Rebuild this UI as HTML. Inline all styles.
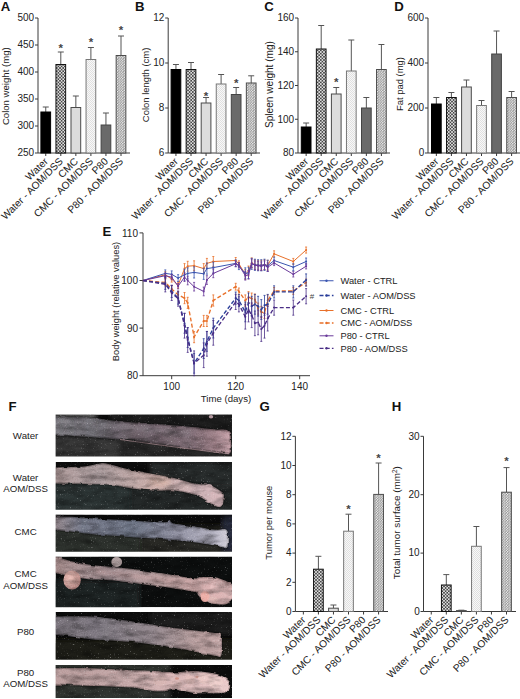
<!DOCTYPE html>
<html><head><meta charset="utf-8"><title>Figure</title>
<style>html,body{margin:0;padding:0;background:#fff}svg{display:block;font-family:"Liberation Sans",sans-serif}</style>
</head><body>
<svg width="520" height="699" viewBox="0 0 520 699">
<rect width="520" height="699" fill="#fff"/>
<defs>
<pattern id="pchk" width="3.2" height="3.2" patternUnits="userSpaceOnUse"><rect width="3.2" height="3.2" fill="#0c0c0c"/><path d="M-0.40 0.80L0.80 -0.40L2.00 0.80L0.80 2.00Z" fill="#fff"/><path d="M-0.40 4.00L0.80 2.80L2.00 4.00L0.80 5.20Z" fill="#fff"/><path d="M2.80 0.80L4.00 -0.40L5.20 0.80L4.00 2.00Z" fill="#fff"/><path d="M2.80 4.00L4.00 2.80L5.20 4.00L4.00 5.20Z" fill="#fff"/><path d="M-2.00 -0.80L-0.80 -2.00L0.40 -0.80L-0.80 0.40Z" fill="#fff"/><path d="M-2.00 2.40L-0.80 1.20L0.40 2.40L-0.80 3.60Z" fill="#fff"/><path d="M1.20 -0.80L2.40 -2.00L3.60 -0.80L2.40 0.40Z" fill="#fff"/><path d="M1.20 2.40L2.40 1.20L3.60 2.40L2.40 3.60Z" fill="#fff"/></pattern>
<pattern id="pfine" width="2.6" height="2.6" patternUnits="userSpaceOnUse"><rect width="2.6" height="2.6" fill="#484848"/><path d="M-0.39 0.65L0.65 -0.39L1.69 0.65L0.65 1.69Z" fill="#fff"/><path d="M-0.39 3.25L0.65 2.21L1.69 3.25L0.65 4.29Z" fill="#fff"/><path d="M2.21 0.65L3.25 -0.39L4.29 0.65L3.25 1.69Z" fill="#fff"/><path d="M2.21 3.25L3.25 2.21L4.29 3.25L3.25 4.29Z" fill="#fff"/><path d="M-1.69 -0.65L-0.65 -1.69L0.39 -0.65L-0.65 0.39Z" fill="#fff"/><path d="M-1.69 1.95L-0.65 0.91L0.39 1.95L-0.65 2.99Z" fill="#fff"/><path d="M0.91 -0.65L1.95 -1.69L2.99 -0.65L1.95 0.39Z" fill="#fff"/><path d="M0.91 1.95L1.95 0.91L2.99 1.95L1.95 2.99Z" fill="#fff"/></pattern>
<pattern id="pdot" width="2" height="2" patternUnits="userSpaceOnUse"><rect width="2" height="2" fill="#f8f8f8"/><rect width="1" height="1" fill="#e0e0e0"/><rect x="1" y="1" width="1" height="1" fill="#e0e0e0"/></pattern>
</defs>
<text x="0.8" y="10.9" font-size="13.2" font-weight="bold" fill="#111">A</text>
<path d="M38 18V153H130" fill="none" stroke="#3a3a3a" stroke-width="1"/>
<path d="M35 18H38" stroke="#3a3a3a" stroke-width="1"/>
<text x="34.2" y="21.3" font-size="10" text-anchor="end" fill="#222">500</text>
<path d="M35 45H38" stroke="#3a3a3a" stroke-width="1"/>
<text x="34.2" y="48.3" font-size="10" text-anchor="end" fill="#222">450</text>
<path d="M35 72H38" stroke="#3a3a3a" stroke-width="1"/>
<text x="34.2" y="75.3" font-size="10" text-anchor="end" fill="#222">400</text>
<path d="M35 99H38" stroke="#3a3a3a" stroke-width="1"/>
<text x="34.2" y="102.3" font-size="10" text-anchor="end" fill="#222">350</text>
<path d="M35 126H38" stroke="#3a3a3a" stroke-width="1"/>
<text x="34.2" y="129.3" font-size="10" text-anchor="end" fill="#222">300</text>
<path d="M35 153H38" stroke="#3a3a3a" stroke-width="1"/>
<text x="34.2" y="156.3" font-size="10" text-anchor="end" fill="#222">250</text>
<text transform="translate(9 86.2) rotate(-90)" font-size="9.6" text-anchor="middle" fill="#222">Colon weight (mg)</text>
<path d="M45.75 153v3" stroke="#3a3a3a" stroke-width="1"/>
<text transform="translate(48.55 162) rotate(-45)" font-size="10.2" text-anchor="end" fill="#222">Water</text>
<path d="M45.75 112V107M42.75 107h6" stroke="#555" stroke-width="1" fill="none"/>
<rect x="40.9" y="112" width="9.7" height="41" fill="#000" stroke="#000" stroke-width="1"/>
<path d="M60.800000000000004 153v3" stroke="#3a3a3a" stroke-width="1"/>
<text transform="translate(63.6 162) rotate(-45)" font-size="10.2" text-anchor="end" fill="#222">Water - AOM/DSS</text>
<path d="M60.800000000000004 64.5V52M57.800000000000004 52h6" stroke="#555" stroke-width="1" fill="none"/>
<rect x="55.95" y="64.5" width="9.7" height="88.5" fill="url(#pchk)" stroke="#111" stroke-width="1"/>
<text x="60.800000000000004" y="51.5" font-size="11.5" font-weight="bold" text-anchor="middle" fill="#444">*</text>
<path d="M75.85 153v3" stroke="#3a3a3a" stroke-width="1"/>
<text transform="translate(78.64999999999999 162) rotate(-45)" font-size="10.2" text-anchor="end" fill="#222">CMC</text>
<path d="M75.85 107.5V96M72.85 96h6" stroke="#555" stroke-width="1" fill="none"/>
<rect x="71.0" y="107.5" width="9.7" height="45.5" fill="#dcdcdc" stroke="#4a4a4a" stroke-width="1"/>
<path d="M90.9 153v3" stroke="#3a3a3a" stroke-width="1"/>
<text transform="translate(93.7 162) rotate(-45)" font-size="10.2" text-anchor="end" fill="#222">CMC - AOM/DSS</text>
<path d="M90.9 59.5V47.5M87.9 47.5h6" stroke="#555" stroke-width="1" fill="none"/>
<rect x="86.05000000000001" y="59.5" width="9.7" height="93.5" fill="url(#pdot)" stroke="#777" stroke-width="1"/>
<text x="90.9" y="45.5" font-size="11.5" font-weight="bold" text-anchor="middle" fill="#444">*</text>
<path d="M105.94999999999999 153v3" stroke="#3a3a3a" stroke-width="1"/>
<text transform="translate(108.74999999999999 162) rotate(-45)" font-size="10.2" text-anchor="end" fill="#222">P80</text>
<path d="M105.94999999999999 125V113M102.94999999999999 113h6" stroke="#555" stroke-width="1" fill="none"/>
<rect x="101.1" y="125" width="9.7" height="28" fill="#6a6a6a" stroke="#444" stroke-width="1"/>
<path d="M121.0 153v3" stroke="#3a3a3a" stroke-width="1"/>
<text transform="translate(123.8 162) rotate(-45)" font-size="10.2" text-anchor="end" fill="#222">P80 - AOM/DSS</text>
<path d="M121.0 55.5V36M118.0 36h6" stroke="#555" stroke-width="1" fill="none"/>
<rect x="116.15" y="55.5" width="9.7" height="97.5" fill="url(#pfine)" stroke="#4c4c4c" stroke-width="1"/>
<text x="121.0" y="33.5" font-size="11.5" font-weight="bold" text-anchor="middle" fill="#444">*</text>
<text x="135" y="10.9" font-size="13.2" font-weight="bold" fill="#111">B</text>
<path d="M168.2 18V153H260" fill="none" stroke="#3a3a3a" stroke-width="1"/>
<path d="M165.2 18H168.2" stroke="#3a3a3a" stroke-width="1"/>
<text x="164.39999999999998" y="21.3" font-size="10" text-anchor="end" fill="#222">12</text>
<path d="M165.2 63H168.2" stroke="#3a3a3a" stroke-width="1"/>
<text x="164.39999999999998" y="66.3" font-size="10" text-anchor="end" fill="#222">10</text>
<path d="M165.2 108H168.2" stroke="#3a3a3a" stroke-width="1"/>
<text x="164.39999999999998" y="111.3" font-size="10" text-anchor="end" fill="#222">8</text>
<path d="M165.2 153H168.2" stroke="#3a3a3a" stroke-width="1"/>
<text x="164.39999999999998" y="156.3" font-size="10" text-anchor="end" fill="#222">6</text>
<text transform="translate(148.5 84.9) rotate(-90)" font-size="9.45" text-anchor="middle" fill="#222">Colon length (cm)</text>
<path d="M175.95 153v3" stroke="#3a3a3a" stroke-width="1"/>
<text transform="translate(178.75 162) rotate(-45)" font-size="10.2" text-anchor="end" fill="#222">Water</text>
<path d="M175.95 69.5V64.5M172.95 64.5h6" stroke="#555" stroke-width="1" fill="none"/>
<rect x="171.1" y="69.5" width="9.7" height="83.5" fill="#000" stroke="#000" stroke-width="1"/>
<path d="M191.0 153v3" stroke="#3a3a3a" stroke-width="1"/>
<text transform="translate(193.8 162) rotate(-45)" font-size="10.2" text-anchor="end" fill="#222">Water - AOM/DSS</text>
<path d="M191.0 69.5V62.5M188.0 62.5h6" stroke="#555" stroke-width="1" fill="none"/>
<rect x="186.15" y="69.5" width="9.7" height="83.5" fill="url(#pchk)" stroke="#111" stroke-width="1"/>
<path d="M206.04999999999998 153v3" stroke="#3a3a3a" stroke-width="1"/>
<text transform="translate(208.85 162) rotate(-45)" font-size="10.2" text-anchor="end" fill="#222">CMC</text>
<path d="M206.04999999999998 103V97.5M203.04999999999998 97.5h6" stroke="#555" stroke-width="1" fill="none"/>
<rect x="201.2" y="103" width="9.7" height="50" fill="#dcdcdc" stroke="#4a4a4a" stroke-width="1"/>
<text x="206.04999999999998" y="99.5" font-size="11.5" font-weight="bold" text-anchor="middle" fill="#444">*</text>
<path d="M221.1 153v3" stroke="#3a3a3a" stroke-width="1"/>
<text transform="translate(223.9 162) rotate(-45)" font-size="10.2" text-anchor="end" fill="#222">CMC - AOM/DSS</text>
<path d="M221.1 84V74.5M218.1 74.5h6" stroke="#555" stroke-width="1" fill="none"/>
<rect x="216.25" y="84" width="9.7" height="69" fill="url(#pdot)" stroke="#777" stroke-width="1"/>
<path d="M236.15 153v3" stroke="#3a3a3a" stroke-width="1"/>
<text transform="translate(238.95000000000002 162) rotate(-45)" font-size="10.2" text-anchor="end" fill="#222">P80</text>
<path d="M236.15 94.5V87.5M233.15 87.5h6" stroke="#555" stroke-width="1" fill="none"/>
<rect x="231.3" y="94.5" width="9.7" height="58.5" fill="#6a6a6a" stroke="#444" stroke-width="1"/>
<text x="236.15" y="86.5" font-size="11.5" font-weight="bold" text-anchor="middle" fill="#444">*</text>
<path d="M251.2 153v3" stroke="#3a3a3a" stroke-width="1"/>
<text transform="translate(254.0 162) rotate(-45)" font-size="10.2" text-anchor="end" fill="#222">P80 - AOM/DSS</text>
<path d="M251.2 83V75.8M248.2 75.8h6" stroke="#555" stroke-width="1" fill="none"/>
<rect x="246.35" y="83" width="9.7" height="70" fill="url(#pfine)" stroke="#4c4c4c" stroke-width="1"/>
<text x="264.2" y="10.9" font-size="13.2" font-weight="bold" fill="#111">C</text>
<path d="M298 18V153H390" fill="none" stroke="#3a3a3a" stroke-width="1"/>
<path d="M295 18H298" stroke="#3a3a3a" stroke-width="1"/>
<text x="294.2" y="21.3" font-size="10" text-anchor="end" fill="#222">160</text>
<path d="M295 51.75H298" stroke="#3a3a3a" stroke-width="1"/>
<text x="294.2" y="55.05" font-size="10" text-anchor="end" fill="#222">140</text>
<path d="M295 85.5H298" stroke="#3a3a3a" stroke-width="1"/>
<text x="294.2" y="88.8" font-size="10" text-anchor="end" fill="#222">120</text>
<path d="M295 119.25H298" stroke="#3a3a3a" stroke-width="1"/>
<text x="294.2" y="122.55" font-size="10" text-anchor="end" fill="#222">100</text>
<path d="M295 153H298" stroke="#3a3a3a" stroke-width="1"/>
<text x="294.2" y="156.3" font-size="10" text-anchor="end" fill="#222">80</text>
<text transform="translate(272.5 84.5) rotate(-90)" font-size="10.1" text-anchor="middle" fill="#222">Spleen weight (mg)</text>
<path d="M306.15000000000003 153v3" stroke="#3a3a3a" stroke-width="1"/>
<text transform="translate(308.95000000000005 162) rotate(-45)" font-size="10.2" text-anchor="end" fill="#222">Water</text>
<path d="M306.15000000000003 127V123M303.15000000000003 123h6" stroke="#555" stroke-width="1" fill="none"/>
<rect x="301.3" y="127" width="9.7" height="26" fill="#000" stroke="#000" stroke-width="1"/>
<path d="M321.20000000000005 153v3" stroke="#3a3a3a" stroke-width="1"/>
<text transform="translate(324.00000000000006 162) rotate(-45)" font-size="10.2" text-anchor="end" fill="#222">Water - AOM/DSS</text>
<path d="M321.20000000000005 49V25.5M318.20000000000005 25.5h6" stroke="#555" stroke-width="1" fill="none"/>
<rect x="316.35" y="49" width="9.7" height="104" fill="url(#pchk)" stroke="#111" stroke-width="1"/>
<path d="M336.25000000000006 153v3" stroke="#3a3a3a" stroke-width="1"/>
<text transform="translate(339.05000000000007 162) rotate(-45)" font-size="10.2" text-anchor="end" fill="#222">CMC</text>
<path d="M336.25000000000006 94V87.5M333.25000000000006 87.5h6" stroke="#555" stroke-width="1" fill="none"/>
<rect x="331.40000000000003" y="94" width="9.7" height="59" fill="#dcdcdc" stroke="#4a4a4a" stroke-width="1"/>
<text x="336.25000000000006" y="85.5" font-size="11.5" font-weight="bold" text-anchor="middle" fill="#444">*</text>
<path d="M351.30000000000007 153v3" stroke="#3a3a3a" stroke-width="1"/>
<text transform="translate(354.1000000000001 162) rotate(-45)" font-size="10.2" text-anchor="end" fill="#222">CMC - AOM/DSS</text>
<path d="M351.30000000000007 71V40M348.30000000000007 40h6" stroke="#555" stroke-width="1" fill="none"/>
<rect x="346.45000000000005" y="71" width="9.7" height="82" fill="url(#pdot)" stroke="#777" stroke-width="1"/>
<path d="M366.35 153v3" stroke="#3a3a3a" stroke-width="1"/>
<text transform="translate(369.15000000000003 162) rotate(-45)" font-size="10.2" text-anchor="end" fill="#222">P80</text>
<path d="M366.35 108V97.5M363.35 97.5h6" stroke="#555" stroke-width="1" fill="none"/>
<rect x="361.5" y="108" width="9.7" height="45" fill="#6a6a6a" stroke="#444" stroke-width="1"/>
<path d="M381.40000000000003 153v3" stroke="#3a3a3a" stroke-width="1"/>
<text transform="translate(384.20000000000005 162) rotate(-45)" font-size="10.2" text-anchor="end" fill="#222">P80 - AOM/DSS</text>
<path d="M381.40000000000003 69.5V44.5M378.40000000000003 44.5h6" stroke="#555" stroke-width="1" fill="none"/>
<rect x="376.55" y="69.5" width="9.7" height="83.5" fill="url(#pfine)" stroke="#4c4c4c" stroke-width="1"/>
<text x="394.2" y="10.9" font-size="13.2" font-weight="bold" fill="#111">D</text>
<path d="M428 18V153H520" fill="none" stroke="#3a3a3a" stroke-width="1"/>
<path d="M425 18H428" stroke="#3a3a3a" stroke-width="1"/>
<text x="424.2" y="21.3" font-size="10" text-anchor="end" fill="#222">600</text>
<path d="M425 63H428" stroke="#3a3a3a" stroke-width="1"/>
<text x="424.2" y="66.3" font-size="10" text-anchor="end" fill="#222">400</text>
<path d="M425 108H428" stroke="#3a3a3a" stroke-width="1"/>
<text x="424.2" y="111.3" font-size="10" text-anchor="end" fill="#222">200</text>
<path d="M425 153H428" stroke="#3a3a3a" stroke-width="1"/>
<text x="424.2" y="156.3" font-size="10" text-anchor="end" fill="#222">0</text>
<text transform="translate(402.8 84) rotate(-90)" font-size="9.45" text-anchor="middle" fill="#222">Fat pad (mg)</text>
<path d="M436.35 153v3" stroke="#3a3a3a" stroke-width="1"/>
<text transform="translate(439.15000000000003 162) rotate(-45)" font-size="10.2" text-anchor="end" fill="#222">Water</text>
<path d="M436.35 104V97.5M433.35 97.5h6" stroke="#555" stroke-width="1" fill="none"/>
<rect x="431.5" y="104" width="9.7" height="49" fill="#000" stroke="#000" stroke-width="1"/>
<path d="M451.40000000000003 153v3" stroke="#3a3a3a" stroke-width="1"/>
<text transform="translate(454.20000000000005 162) rotate(-45)" font-size="10.2" text-anchor="end" fill="#222">Water - AOM/DSS</text>
<path d="M451.40000000000003 97.5V92.5M448.40000000000003 92.5h6" stroke="#555" stroke-width="1" fill="none"/>
<rect x="446.55" y="97.5" width="9.7" height="55.5" fill="url(#pchk)" stroke="#111" stroke-width="1"/>
<path d="M466.45000000000005 153v3" stroke="#3a3a3a" stroke-width="1"/>
<text transform="translate(469.25000000000006 162) rotate(-45)" font-size="10.2" text-anchor="end" fill="#222">CMC</text>
<path d="M466.45000000000005 87V80M463.45000000000005 80h6" stroke="#555" stroke-width="1" fill="none"/>
<rect x="461.6" y="87" width="9.7" height="66" fill="#dcdcdc" stroke="#4a4a4a" stroke-width="1"/>
<path d="M481.5 153v3" stroke="#3a3a3a" stroke-width="1"/>
<text transform="translate(484.3 162) rotate(-45)" font-size="10.2" text-anchor="end" fill="#222">CMC - AOM/DSS</text>
<path d="M481.5 105.5V100.5M478.5 100.5h6" stroke="#555" stroke-width="1" fill="none"/>
<rect x="476.65" y="105.5" width="9.7" height="47.5" fill="url(#pdot)" stroke="#777" stroke-width="1"/>
<path d="M496.55 153v3" stroke="#3a3a3a" stroke-width="1"/>
<text transform="translate(499.35 162) rotate(-45)" font-size="10.2" text-anchor="end" fill="#222">P80</text>
<path d="M496.55 54V31M493.55 31h6" stroke="#555" stroke-width="1" fill="none"/>
<rect x="491.7" y="54" width="9.7" height="99" fill="#6a6a6a" stroke="#444" stroke-width="1"/>
<path d="M511.6 153v3" stroke="#3a3a3a" stroke-width="1"/>
<text transform="translate(514.4 162) rotate(-45)" font-size="10.2" text-anchor="end" fill="#222">P80 - AOM/DSS</text>
<path d="M511.6 97.5V91.5M508.6 91.5h6" stroke="#555" stroke-width="1" fill="none"/>
<rect x="506.75" y="97.5" width="9.7" height="55.5" fill="url(#pfine)" stroke="#4c4c4c" stroke-width="1"/>
<text x="259.5" y="411" font-size="13.2" font-weight="bold" fill="#111">G</text>
<path d="M295.4 436.3V611.5H388" fill="none" stroke="#3a3a3a" stroke-width="1"/>
<path d="M292.4 436.3H295.4" stroke="#3a3a3a" stroke-width="1"/>
<text x="291.59999999999997" y="439.6" font-size="10" text-anchor="end" fill="#222">12</text>
<path d="M292.4 465.5H295.4" stroke="#3a3a3a" stroke-width="1"/>
<text x="291.59999999999997" y="468.8" font-size="10" text-anchor="end" fill="#222">10</text>
<path d="M292.4 494.7H295.4" stroke="#3a3a3a" stroke-width="1"/>
<text x="291.59999999999997" y="498.0" font-size="10" text-anchor="end" fill="#222">8</text>
<path d="M292.4 523.9H295.4" stroke="#3a3a3a" stroke-width="1"/>
<text x="291.59999999999997" y="527.1999999999999" font-size="10" text-anchor="end" fill="#222">6</text>
<path d="M292.4 553.1H295.4" stroke="#3a3a3a" stroke-width="1"/>
<text x="291.59999999999997" y="556.4" font-size="10" text-anchor="end" fill="#222">4</text>
<path d="M292.4 582.3H295.4" stroke="#3a3a3a" stroke-width="1"/>
<text x="291.59999999999997" y="585.5999999999999" font-size="10" text-anchor="end" fill="#222">2</text>
<path d="M292.4 611.5H295.4" stroke="#3a3a3a" stroke-width="1"/>
<text x="291.59999999999997" y="614.8" font-size="10" text-anchor="end" fill="#222">0</text>
<text transform="translate(271.5 522.7) rotate(-90)" font-size="9.45" text-anchor="middle" fill="#222">Tumor per mouse</text>
<path d="M303.35 611.5v3" stroke="#3a3a3a" stroke-width="1"/>
<text transform="translate(306.15000000000003 620.5) rotate(-45)" font-size="10.2" text-anchor="end" fill="#222">Water</text>
<path d="M318.40000000000003 611.5v3" stroke="#3a3a3a" stroke-width="1"/>
<text transform="translate(321.20000000000005 620.5) rotate(-45)" font-size="10.2" text-anchor="end" fill="#222">Water - AOM/DSS</text>
<path d="M318.40000000000003 569.2V556.3M315.40000000000003 556.3h6" stroke="#555" stroke-width="1" fill="none"/>
<rect x="313.55" y="569.2" width="9.7" height="42.299999999999955" fill="url(#pchk)" stroke="#111" stroke-width="1"/>
<path d="M333.45000000000005 611.5v3" stroke="#3a3a3a" stroke-width="1"/>
<text transform="translate(336.25000000000006 620.5) rotate(-45)" font-size="10.2" text-anchor="end" fill="#222">CMC</text>
<path d="M333.45000000000005 608.2V605M330.45000000000005 605h6" stroke="#555" stroke-width="1" fill="none"/>
<rect x="328.6" y="608.2" width="9.7" height="3.2999999999999545" fill="#dcdcdc" stroke="#4a4a4a" stroke-width="1"/>
<path d="M348.5 611.5v3" stroke="#3a3a3a" stroke-width="1"/>
<text transform="translate(351.3 620.5) rotate(-45)" font-size="10.2" text-anchor="end" fill="#222">CMC - AOM/DSS</text>
<path d="M348.5 531.2V514.2M345.5 514.2h6" stroke="#555" stroke-width="1" fill="none"/>
<rect x="343.65" y="531.2" width="9.7" height="80.29999999999995" fill="url(#pdot)" stroke="#777" stroke-width="1"/>
<text x="348.5" y="512.5" font-size="11.5" font-weight="bold" text-anchor="middle" fill="#444">*</text>
<path d="M363.55 611.5v3" stroke="#3a3a3a" stroke-width="1"/>
<text transform="translate(366.35 620.5) rotate(-45)" font-size="10.2" text-anchor="end" fill="#222">P80</text>
<path d="M378.6 611.5v3" stroke="#3a3a3a" stroke-width="1"/>
<text transform="translate(381.40000000000003 620.5) rotate(-45)" font-size="10.2" text-anchor="end" fill="#222">P80 - AOM/DSS</text>
<path d="M378.6 494.4V463M375.6 463h6" stroke="#555" stroke-width="1" fill="none"/>
<rect x="373.75" y="494.4" width="9.7" height="117.10000000000002" fill="url(#pfine)" stroke="#4c4c4c" stroke-width="1"/>
<text x="378.6" y="462.1" font-size="11.5" font-weight="bold" text-anchor="middle" fill="#444">*</text>
<text x="391.8" y="411" font-size="13.2" font-weight="bold" fill="#111">H</text>
<path d="M423.5 436.3V611.5H516" fill="none" stroke="#3a3a3a" stroke-width="1"/>
<path d="M420.5 436.3H423.5" stroke="#3a3a3a" stroke-width="1"/>
<text x="419.7" y="439.6" font-size="10" text-anchor="end" fill="#222">30</text>
<path d="M420.5 494.7H423.5" stroke="#3a3a3a" stroke-width="1"/>
<text x="419.7" y="498.0" font-size="10" text-anchor="end" fill="#222">20</text>
<path d="M420.5 553.1H423.5" stroke="#3a3a3a" stroke-width="1"/>
<text x="419.7" y="556.4" font-size="10" text-anchor="end" fill="#222">10</text>
<path d="M420.5 611.5H423.5" stroke="#3a3a3a" stroke-width="1"/>
<text x="419.7" y="614.8" font-size="10" text-anchor="end" fill="#222">0</text>
<text transform="translate(400.3 522.7) rotate(-90)" font-size="9.85" text-anchor="middle" fill="#222">Total tumor surface (mm<tspan font-size="6.5" dy="-3.5">2</tspan><tspan dy="3.5">)</tspan></text>
<path d="M431.25 611.5v3" stroke="#3a3a3a" stroke-width="1"/>
<text transform="translate(434.05 620.5) rotate(-45)" font-size="10.2" text-anchor="end" fill="#222">Water</text>
<path d="M446.3 611.5v3" stroke="#3a3a3a" stroke-width="1"/>
<text transform="translate(449.1 620.5) rotate(-45)" font-size="10.2" text-anchor="end" fill="#222">Water - AOM/DSS</text>
<path d="M446.3 585V574.6M443.3 574.6h6" stroke="#555" stroke-width="1" fill="none"/>
<rect x="441.45" y="585" width="9.7" height="26.5" fill="url(#pchk)" stroke="#111" stroke-width="1"/>
<path d="M461.35 611.5v3" stroke="#3a3a3a" stroke-width="1"/>
<text transform="translate(464.15000000000003 620.5) rotate(-45)" font-size="10.2" text-anchor="end" fill="#222">CMC</text>
<path d="M461.35 610.6V610.2M458.35 610.2h6" stroke="#555" stroke-width="1" fill="none"/>
<rect x="456.5" y="610.6" width="9.7" height="0.8999999999999773" fill="#dcdcdc" stroke="#4a4a4a" stroke-width="1"/>
<path d="M476.4 611.5v3" stroke="#3a3a3a" stroke-width="1"/>
<text transform="translate(479.2 620.5) rotate(-45)" font-size="10.2" text-anchor="end" fill="#222">CMC - AOM/DSS</text>
<path d="M476.4 546.3V526.5M473.4 526.5h6" stroke="#555" stroke-width="1" fill="none"/>
<rect x="471.54999999999995" y="546.3" width="9.7" height="65.20000000000005" fill="url(#pdot)" stroke="#777" stroke-width="1"/>
<path d="M491.45 611.5v3" stroke="#3a3a3a" stroke-width="1"/>
<text transform="translate(494.25 620.5) rotate(-45)" font-size="10.2" text-anchor="end" fill="#222">P80</text>
<path d="M506.5 611.5v3" stroke="#3a3a3a" stroke-width="1"/>
<text transform="translate(509.3 620.5) rotate(-45)" font-size="10.2" text-anchor="end" fill="#222">P80 - AOM/DSS</text>
<path d="M506.5 492.2V467.6M503.5 467.6h6" stroke="#555" stroke-width="1" fill="none"/>
<rect x="501.65" y="492.2" width="9.7" height="119.30000000000001" fill="url(#pfine)" stroke="#4c4c4c" stroke-width="1"/>
<text x="506.5" y="465.3" font-size="11.5" font-weight="bold" text-anchor="middle" fill="#444">*</text>
<text x="102.5" y="236" font-size="13.2" font-weight="bold" fill="#111">E</text>
<path d="M143 232.9V375.7H310" fill="none" stroke="#3a3a3a"/>
<path d="M139.5 232.9H143" stroke="#3a3a3a"/>
<text x="138" y="236.5" font-size="10" text-anchor="end" fill="#222">110</text>
<path d="M139.5 280.5H143" stroke="#3a3a3a"/>
<text x="138" y="284.1" font-size="10" text-anchor="end" fill="#222">100</text>
<path d="M139.5 328.1H143" stroke="#3a3a3a"/>
<text x="138" y="331.70000000000005" font-size="10" text-anchor="end" fill="#222">90</text>
<path d="M139.5 375.7H143" stroke="#3a3a3a"/>
<text x="138" y="379.3" font-size="10" text-anchor="end" fill="#222">80</text>
<path d="M171.7 375.7v3.5" stroke="#3a3a3a"/>
<text x="171.7" y="389.7" font-size="10" text-anchor="middle" fill="#222">100</text>
<path d="M235.7 375.7v3.5" stroke="#3a3a3a"/>
<text x="235.7" y="389.7" font-size="10" text-anchor="middle" fill="#222">120</text>
<path d="M299.7 375.7v3.5" stroke="#3a3a3a"/>
<text x="299.7" y="389.7" font-size="10" text-anchor="middle" fill="#222">140</text>
<text transform="translate(118.6 301.5) rotate(-90)" font-size="9.35" text-anchor="middle" fill="#222">Body weight (relative values)</text>
<text x="226" y="402" font-size="9.6" text-anchor="middle" fill="#222">Time (days)</text>
<polyline points="142.9,280.5 165.3,274.8 171.7,279.1 178.1,285.3 184.5,268.6 187.7,266.2 194.1,265.7 203.7,268.6 206.9,263.4 213.3,261.5 235.7,260.5 238.9,263.8 245.3,274.3 248.5,271.0 251.7,262.9 254.9,264.8 258.1,265.3 261.3,265.3 264.5,264.8 267.7,265.3 274.1,253.8 293.3,261.5 306.1,250.0" fill="none" stroke="#e8702a" stroke-width="1"/>
<path d="M165.3 271.7V277.8M164.3 271.7h2M164.3 277.8h2M171.7 276.0V282.1M170.7 276.0h2M170.7 282.1h2M178.1 282.2V288.3M177.1 282.2h2M177.1 288.3h2M184.5 263.6V273.6M183.5 263.6h2M183.5 273.6h2M187.7 261.3V271.2M186.7 261.3h2M186.7 271.2h2M194.1 260.8V270.7M193.1 260.8h2M193.1 270.7h2M203.7 263.6V273.6M202.7 263.6h2M202.7 273.6h2M206.9 258.4V268.3M205.9 258.4h2M205.9 268.3h2M213.3 256.5V266.4M212.3 256.5h2M212.3 266.4h2M235.7 257.5V263.6M234.7 257.5h2M234.7 263.6h2M238.9 260.8V266.9M237.9 260.8h2M237.9 266.9h2M245.3 269.4V279.3M244.3 269.4h2M244.3 279.3h2M248.5 266.0V275.9M247.5 266.0h2M247.5 275.9h2M251.7 257.9V267.8M250.7 257.9h2M250.7 267.8h2M254.9 259.8V269.7M253.9 259.8h2M253.9 269.7h2M258.1 260.3V270.2M257.1 260.3h2M257.1 270.2h2M261.3 260.3V270.2M260.3 260.3h2M260.3 270.2h2M264.5 259.8V269.7M263.5 259.8h2M263.5 269.7h2M267.7 260.3V270.2M266.7 260.3h2M266.7 270.2h2M274.1 250.8V256.9M273.1 250.8h2M273.1 256.9h2M293.3 258.4V264.5M292.3 258.4h2M292.3 264.5h2M306.1 247.0V253.1M305.1 247.0h2M305.1 253.1h2" stroke="#e8702a" stroke-width="0.8" fill="none"/>
<circle cx="165.3" cy="274.8" r="1" fill="#e8702a"/>
<circle cx="171.7" cy="279.1" r="1" fill="#e8702a"/>
<circle cx="178.1" cy="285.3" r="1" fill="#e8702a"/>
<circle cx="184.5" cy="268.6" r="1" fill="#e8702a"/>
<circle cx="187.7" cy="266.2" r="1" fill="#e8702a"/>
<circle cx="194.1" cy="265.7" r="1" fill="#e8702a"/>
<circle cx="203.7" cy="268.6" r="1" fill="#e8702a"/>
<circle cx="206.9" cy="263.4" r="1" fill="#e8702a"/>
<circle cx="213.3" cy="261.5" r="1" fill="#e8702a"/>
<circle cx="235.7" cy="260.5" r="1" fill="#e8702a"/>
<circle cx="238.9" cy="263.8" r="1" fill="#e8702a"/>
<circle cx="245.3" cy="274.3" r="1" fill="#e8702a"/>
<circle cx="248.5" cy="271.0" r="1" fill="#e8702a"/>
<circle cx="251.7" cy="262.9" r="1" fill="#e8702a"/>
<circle cx="254.9" cy="264.8" r="1" fill="#e8702a"/>
<circle cx="258.1" cy="265.3" r="1" fill="#e8702a"/>
<circle cx="261.3" cy="265.3" r="1" fill="#e8702a"/>
<circle cx="264.5" cy="264.8" r="1" fill="#e8702a"/>
<circle cx="267.7" cy="265.3" r="1" fill="#e8702a"/>
<circle cx="274.1" cy="253.8" r="1" fill="#e8702a"/>
<circle cx="293.3" cy="261.5" r="1" fill="#e8702a"/>
<circle cx="306.1" cy="250.0" r="1" fill="#e8702a"/>
<polyline points="142.9,280.5 165.3,273.4 171.7,274.3 178.1,278.1 184.5,274.8 187.7,273.4 194.1,272.4 203.7,273.8 206.9,268.6 213.3,267.6 235.7,263.4 238.9,266.2 245.3,273.4 248.5,272.9 251.7,263.8 254.9,264.8 258.1,265.3 261.3,265.3 264.5,264.8 267.7,265.7 274.1,260.5 293.3,267.2 306.1,261.5" fill="none" stroke="#3a55b0" stroke-width="1"/>
<path d="M165.3 269.9V276.8M164.3 269.9h2M164.3 276.8h2M171.7 270.9V277.7M170.7 270.9h2M170.7 277.7h2M178.1 274.7V281.5M177.1 274.7h2M177.1 281.5h2M184.5 269.2V280.4M183.5 269.2h2M183.5 280.4h2M187.7 267.8V278.9M186.7 267.8h2M186.7 278.9h2M194.1 266.8V278.0M193.1 266.8h2M193.1 278.0h2M203.7 268.3V279.4M202.7 268.3h2M202.7 279.4h2M206.9 263.0V274.2M205.9 263.0h2M205.9 274.2h2M213.3 262.1V273.2M212.3 262.1h2M212.3 273.2h2M235.7 259.9V266.8M234.7 259.9h2M234.7 266.8h2M238.9 262.8V269.6M237.9 262.8h2M237.9 269.6h2M245.3 267.8V278.9M244.3 267.8h2M244.3 278.9h2M248.5 267.3V278.5M247.5 267.3h2M247.5 278.5h2M251.7 258.3V269.4M250.7 258.3h2M250.7 269.4h2M254.9 259.2V270.4M253.9 259.2h2M253.9 270.4h2M258.1 259.7V270.8M257.1 259.7h2M257.1 270.8h2M261.3 259.7V270.8M260.3 259.7h2M260.3 270.8h2M264.5 259.2V270.4M263.5 259.2h2M263.5 270.4h2M267.7 260.2V271.3M266.7 260.2h2M266.7 271.3h2M274.1 257.1V263.9M273.1 257.1h2M273.1 263.9h2M293.3 263.7V270.6M292.3 263.7h2M292.3 270.6h2M306.1 258.0V264.9M305.1 258.0h2M305.1 264.9h2" stroke="#3a55b0" stroke-width="0.8" fill="none"/>
<circle cx="165.3" cy="273.4" r="1" fill="#3a55b0"/>
<circle cx="171.7" cy="274.3" r="1" fill="#3a55b0"/>
<circle cx="178.1" cy="278.1" r="1" fill="#3a55b0"/>
<circle cx="184.5" cy="274.8" r="1" fill="#3a55b0"/>
<circle cx="187.7" cy="273.4" r="1" fill="#3a55b0"/>
<circle cx="194.1" cy="272.4" r="1" fill="#3a55b0"/>
<circle cx="203.7" cy="273.8" r="1" fill="#3a55b0"/>
<circle cx="206.9" cy="268.6" r="1" fill="#3a55b0"/>
<circle cx="213.3" cy="267.6" r="1" fill="#3a55b0"/>
<circle cx="235.7" cy="263.4" r="1" fill="#3a55b0"/>
<circle cx="238.9" cy="266.2" r="1" fill="#3a55b0"/>
<circle cx="245.3" cy="273.4" r="1" fill="#3a55b0"/>
<circle cx="248.5" cy="272.9" r="1" fill="#3a55b0"/>
<circle cx="251.7" cy="263.8" r="1" fill="#3a55b0"/>
<circle cx="254.9" cy="264.8" r="1" fill="#3a55b0"/>
<circle cx="258.1" cy="265.3" r="1" fill="#3a55b0"/>
<circle cx="261.3" cy="265.3" r="1" fill="#3a55b0"/>
<circle cx="264.5" cy="264.8" r="1" fill="#3a55b0"/>
<circle cx="267.7" cy="265.7" r="1" fill="#3a55b0"/>
<circle cx="274.1" cy="260.5" r="1" fill="#3a55b0"/>
<circle cx="293.3" cy="267.2" r="1" fill="#3a55b0"/>
<circle cx="306.1" cy="261.5" r="1" fill="#3a55b0"/>
<polyline points="142.9,280.5 165.3,275.7 171.7,277.2 178.1,286.2 184.5,277.2 187.7,280.5 194.1,286.7 203.7,291.4 206.9,280.0 213.3,273.4 235.7,263.8 238.9,265.3 245.3,275.7 248.5,274.8 251.7,263.4 254.9,265.3 258.1,265.7 261.3,266.2 264.5,265.3 267.7,267.2 274.1,262.9 293.3,274.3 306.1,266.2" fill="none" stroke="#6a3a9a" stroke-width="1"/>
<path d="M165.3 273.1V278.4M164.3 273.1h2M164.3 278.4h2M171.7 274.5V279.8M170.7 274.5h2M170.7 279.8h2M178.1 283.5V288.9M177.1 283.5h2M177.1 288.9h2M184.5 272.8V281.5M183.5 272.8h2M183.5 281.5h2M187.7 276.2V284.8M186.7 276.2h2M186.7 284.8h2M194.1 282.4V291.0M193.1 282.4h2M193.1 291.0h2M203.7 287.1V295.8M202.7 287.1h2M202.7 295.8h2M206.9 275.7V284.4M205.9 275.7h2M205.9 284.4h2M213.3 269.0V277.7M212.3 269.0h2M212.3 277.7h2M235.7 261.2V266.5M234.7 261.2h2M234.7 266.5h2M238.9 262.6V267.9M237.9 262.6h2M237.9 267.9h2M245.3 271.4V280.1M244.3 271.4h2M244.3 280.1h2M248.5 270.5V279.1M247.5 270.5h2M247.5 279.1h2M251.7 259.0V267.7M250.7 259.0h2M250.7 267.7h2M254.9 260.9V269.6M253.9 260.9h2M253.9 269.6h2M258.1 261.4V270.1M257.1 261.4h2M257.1 270.1h2M261.3 261.9V270.6M260.3 261.9h2M260.3 270.6h2M264.5 260.9V269.6M263.5 260.9h2M263.5 269.6h2M267.7 262.8V271.5M266.7 262.8h2M266.7 271.5h2M274.1 260.2V265.6M273.1 260.2h2M273.1 265.6h2M293.3 271.6V277.0M292.3 271.6h2M292.3 277.0h2M306.1 263.6V268.9M305.1 263.6h2M305.1 268.9h2" stroke="#6a3a9a" stroke-width="0.8" fill="none"/>
<circle cx="165.3" cy="275.7" r="1" fill="#6a3a9a"/>
<circle cx="171.7" cy="277.2" r="1" fill="#6a3a9a"/>
<circle cx="178.1" cy="286.2" r="1" fill="#6a3a9a"/>
<circle cx="184.5" cy="277.2" r="1" fill="#6a3a9a"/>
<circle cx="187.7" cy="280.5" r="1" fill="#6a3a9a"/>
<circle cx="194.1" cy="286.7" r="1" fill="#6a3a9a"/>
<circle cx="203.7" cy="291.4" r="1" fill="#6a3a9a"/>
<circle cx="206.9" cy="280.0" r="1" fill="#6a3a9a"/>
<circle cx="213.3" cy="273.4" r="1" fill="#6a3a9a"/>
<circle cx="235.7" cy="263.8" r="1" fill="#6a3a9a"/>
<circle cx="238.9" cy="265.3" r="1" fill="#6a3a9a"/>
<circle cx="245.3" cy="275.7" r="1" fill="#6a3a9a"/>
<circle cx="248.5" cy="274.8" r="1" fill="#6a3a9a"/>
<circle cx="251.7" cy="263.4" r="1" fill="#6a3a9a"/>
<circle cx="254.9" cy="265.3" r="1" fill="#6a3a9a"/>
<circle cx="258.1" cy="265.7" r="1" fill="#6a3a9a"/>
<circle cx="261.3" cy="266.2" r="1" fill="#6a3a9a"/>
<circle cx="264.5" cy="265.3" r="1" fill="#6a3a9a"/>
<circle cx="267.7" cy="267.2" r="1" fill="#6a3a9a"/>
<circle cx="274.1" cy="262.9" r="1" fill="#6a3a9a"/>
<circle cx="293.3" cy="274.3" r="1" fill="#6a3a9a"/>
<circle cx="306.1" cy="266.2" r="1" fill="#6a3a9a"/>
<polyline points="142.9,280.5 165.3,282.4 171.7,289.1 178.1,294.8 184.5,298.1 187.7,302.9 194.1,337.1 203.7,321.0 206.9,321.0 213.3,300.5 235.7,286.7 238.9,291.4 245.3,300.5 248.5,297.2 251.7,298.6 254.9,299.5 258.1,308.6 261.3,311.9 264.5,312.9 267.7,300.5 274.1,291.0 293.3,291.0 306.1,282.4" fill="none" stroke="#e8702a" stroke-width="1.35" stroke-dasharray="4 2.2"/>
<path d="M165.3 279.0V285.8M164.3 279.0h2M164.3 285.8h2M171.7 285.6V292.5M170.7 285.6h2M170.7 292.5h2M178.1 291.4V298.2M177.1 291.4h2M177.1 298.2h2M184.5 292.5V303.7M183.5 292.5h2M183.5 303.7h2M187.7 297.3V308.4M186.7 297.3h2M186.7 308.4h2M194.1 331.6V342.7M193.1 331.6h2M193.1 342.7h2M203.7 315.4V326.5M202.7 315.4h2M202.7 326.5h2M206.9 315.4V326.5M205.9 315.4h2M205.9 326.5h2M213.3 294.9V306.1M212.3 294.9h2M212.3 306.1h2M235.7 283.3V290.1M234.7 283.3h2M234.7 290.1h2M238.9 288.0V294.9M237.9 288.0h2M237.9 294.9h2M245.3 294.9V306.1M244.3 294.9h2M244.3 306.1h2M248.5 291.6V302.7M247.5 291.6h2M247.5 302.7h2M251.7 293.0V304.2M250.7 293.0h2M250.7 304.2h2M254.9 294.0V305.1M253.9 294.0h2M253.9 305.1h2M258.1 303.0V314.2M257.1 303.0h2M257.1 314.2h2M261.3 306.3V317.5M260.3 306.3h2M260.3 317.5h2M264.5 307.3V318.4M263.5 307.3h2M263.5 318.4h2M267.7 294.9V306.1M266.7 294.9h2M266.7 306.1h2M274.1 287.5V294.4M273.1 287.5h2M273.1 294.4h2M293.3 287.5V294.4M292.3 287.5h2M292.3 294.4h2M306.1 279.0V285.8M305.1 279.0h2M305.1 285.8h2" stroke="#e8702a" stroke-width="0.8" fill="none"/>
<circle cx="165.3" cy="282.4" r="1" fill="#e8702a"/>
<circle cx="171.7" cy="289.1" r="1" fill="#e8702a"/>
<circle cx="178.1" cy="294.8" r="1" fill="#e8702a"/>
<circle cx="184.5" cy="298.1" r="1" fill="#e8702a"/>
<circle cx="187.7" cy="302.9" r="1" fill="#e8702a"/>
<circle cx="194.1" cy="337.1" r="1" fill="#e8702a"/>
<circle cx="203.7" cy="321.0" r="1" fill="#e8702a"/>
<circle cx="206.9" cy="321.0" r="1" fill="#e8702a"/>
<circle cx="213.3" cy="300.5" r="1" fill="#e8702a"/>
<circle cx="235.7" cy="286.7" r="1" fill="#e8702a"/>
<circle cx="238.9" cy="291.4" r="1" fill="#e8702a"/>
<circle cx="245.3" cy="300.5" r="1" fill="#e8702a"/>
<circle cx="248.5" cy="297.2" r="1" fill="#e8702a"/>
<circle cx="251.7" cy="298.6" r="1" fill="#e8702a"/>
<circle cx="254.9" cy="299.5" r="1" fill="#e8702a"/>
<circle cx="258.1" cy="308.6" r="1" fill="#e8702a"/>
<circle cx="261.3" cy="311.9" r="1" fill="#e8702a"/>
<circle cx="264.5" cy="312.9" r="1" fill="#e8702a"/>
<circle cx="267.7" cy="300.5" r="1" fill="#e8702a"/>
<circle cx="274.1" cy="291.0" r="1" fill="#e8702a"/>
<circle cx="293.3" cy="291.0" r="1" fill="#e8702a"/>
<circle cx="306.1" cy="282.4" r="1" fill="#e8702a"/>
<polyline points="142.9,280.5 165.3,283.4 171.7,291.4 178.1,298.1 184.5,323.3 187.7,337.6 194.1,363.3 203.7,348.6 206.9,341.4 213.3,328.1 235.7,298.1 238.9,300.5 245.3,311.9 248.5,302.9 251.7,306.2 254.9,304.3 258.1,306.2 261.3,309.5 264.5,305.3 267.7,304.3 274.1,291.9 293.3,291.9 306.1,280.0" fill="none" stroke="#2b3f9a" stroke-width="1.35" stroke-dasharray="4 2.2"/>
<path d="M165.3 277.3V289.4M164.3 277.3h2M164.3 289.4h2M171.7 285.4V297.5M170.7 285.4h2M170.7 297.5h2M178.1 292.0V304.2M177.1 292.0h2M177.1 304.2h2M184.5 313.4V333.2M183.5 313.4h2M183.5 333.2h2M187.7 327.7V347.5M186.7 327.7h2M186.7 347.5h2M194.1 353.4V373.2M193.1 353.4h2M193.1 373.2h2M203.7 338.7V358.5M202.7 338.7h2M202.7 358.5h2M206.9 331.5V351.3M205.9 331.5h2M205.9 351.3h2M213.3 318.2V338.0M212.3 318.2h2M212.3 338.0h2M235.7 292.0V304.2M234.7 292.0h2M234.7 304.2h2M238.9 294.4V306.6M237.9 294.4h2M237.9 306.6h2M245.3 302.0V321.8M244.3 302.0h2M244.3 321.8h2M248.5 293.0V312.8M247.5 293.0h2M247.5 312.8h2M251.7 296.3V316.1M250.7 296.3h2M250.7 316.1h2M254.9 294.4V314.2M253.9 294.4h2M253.9 314.2h2M258.1 296.3V316.1M257.1 296.3h2M257.1 316.1h2M261.3 299.6V319.4M260.3 299.6h2M260.3 319.4h2M264.5 295.4V315.2M263.5 295.4h2M263.5 315.2h2M267.7 294.4V314.2M266.7 294.4h2M266.7 314.2h2M274.1 285.8V298.0M273.1 285.8h2M273.1 298.0h2M293.3 285.8V298.0M292.3 285.8h2M292.3 298.0h2M306.1 273.9V286.1M305.1 273.9h2M305.1 286.1h2" stroke="#2b3f9a" stroke-width="0.8" fill="none"/>
<circle cx="165.3" cy="283.4" r="1" fill="#2b3f9a"/>
<circle cx="171.7" cy="291.4" r="1" fill="#2b3f9a"/>
<circle cx="178.1" cy="298.1" r="1" fill="#2b3f9a"/>
<circle cx="184.5" cy="323.3" r="1" fill="#2b3f9a"/>
<circle cx="187.7" cy="337.6" r="1" fill="#2b3f9a"/>
<circle cx="194.1" cy="363.3" r="1" fill="#2b3f9a"/>
<circle cx="203.7" cy="348.6" r="1" fill="#2b3f9a"/>
<circle cx="206.9" cy="341.4" r="1" fill="#2b3f9a"/>
<circle cx="213.3" cy="328.1" r="1" fill="#2b3f9a"/>
<circle cx="235.7" cy="298.1" r="1" fill="#2b3f9a"/>
<circle cx="238.9" cy="300.5" r="1" fill="#2b3f9a"/>
<circle cx="245.3" cy="311.9" r="1" fill="#2b3f9a"/>
<circle cx="248.5" cy="302.9" r="1" fill="#2b3f9a"/>
<circle cx="251.7" cy="306.2" r="1" fill="#2b3f9a"/>
<circle cx="254.9" cy="304.3" r="1" fill="#2b3f9a"/>
<circle cx="258.1" cy="306.2" r="1" fill="#2b3f9a"/>
<circle cx="261.3" cy="309.5" r="1" fill="#2b3f9a"/>
<circle cx="264.5" cy="305.3" r="1" fill="#2b3f9a"/>
<circle cx="267.7" cy="304.3" r="1" fill="#2b3f9a"/>
<circle cx="274.1" cy="291.9" r="1" fill="#2b3f9a"/>
<circle cx="293.3" cy="291.9" r="1" fill="#2b3f9a"/>
<circle cx="306.1" cy="280.0" r="1" fill="#2b3f9a"/>
<polyline points="142.9,280.5 165.3,284.3 171.7,292.9 178.1,298.6 184.5,325.7 187.7,340.0 194.1,363.3 203.7,355.2 206.9,343.8 213.3,332.9 235.7,301.9 238.9,304.3 245.3,316.7 248.5,309.5 251.7,315.2 254.9,323.3 258.1,322.4 261.3,329.1 264.5,325.7 267.7,318.6 274.1,307.6 293.3,307.6 306.1,296.2" fill="none" stroke="#4a2e86" stroke-width="1.35" stroke-dasharray="4 2.2"/>
<path d="M165.3 276.7V291.9M164.3 276.7h2M164.3 291.9h2M171.7 285.3V300.5M170.7 285.3h2M170.7 300.5h2M178.1 291.0V306.2M177.1 291.0h2M177.1 306.2h2M184.5 313.3V338.1M183.5 313.3h2M183.5 338.1h2M187.7 327.6V352.4M186.7 327.6h2M186.7 352.4h2M194.1 350.9V375.7M193.1 350.9h2M193.1 375.7h2M203.7 342.9V367.6M202.7 342.9h2M202.7 367.6h2M206.9 331.4V356.2M205.9 331.4h2M205.9 356.2h2M213.3 320.5V345.2M212.3 320.5h2M212.3 345.2h2M235.7 294.3V309.5M234.7 294.3h2M234.7 309.5h2M238.9 296.7V311.9M237.9 296.7h2M237.9 311.9h2M245.3 304.3V329.1M244.3 304.3h2M244.3 329.1h2M248.5 297.2V321.9M247.5 297.2h2M247.5 321.9h2M251.7 302.9V327.6M250.7 302.9h2M250.7 327.6h2M254.9 311.0V335.7M253.9 311.0h2M253.9 335.7h2M258.1 310.0V334.8M257.1 310.0h2M257.1 334.8h2M261.3 316.7V341.4M260.3 316.7h2M260.3 341.4h2M264.5 313.3V338.1M263.5 313.3h2M263.5 338.1h2M267.7 306.2V331.0M266.7 306.2h2M266.7 331.0h2M274.1 300.0V315.2M273.1 300.0h2M273.1 315.2h2M293.3 300.0V315.2M292.3 300.0h2M292.3 315.2h2M306.1 288.6V303.8M305.1 288.6h2M305.1 303.8h2" stroke="#4a2e86" stroke-width="0.8" fill="none"/>
<circle cx="165.3" cy="284.3" r="1" fill="#4a2e86"/>
<circle cx="171.7" cy="292.9" r="1" fill="#4a2e86"/>
<circle cx="178.1" cy="298.6" r="1" fill="#4a2e86"/>
<circle cx="184.5" cy="325.7" r="1" fill="#4a2e86"/>
<circle cx="187.7" cy="340.0" r="1" fill="#4a2e86"/>
<circle cx="194.1" cy="363.3" r="1" fill="#4a2e86"/>
<circle cx="203.7" cy="355.2" r="1" fill="#4a2e86"/>
<circle cx="206.9" cy="343.8" r="1" fill="#4a2e86"/>
<circle cx="213.3" cy="332.9" r="1" fill="#4a2e86"/>
<circle cx="235.7" cy="301.9" r="1" fill="#4a2e86"/>
<circle cx="238.9" cy="304.3" r="1" fill="#4a2e86"/>
<circle cx="245.3" cy="316.7" r="1" fill="#4a2e86"/>
<circle cx="248.5" cy="309.5" r="1" fill="#4a2e86"/>
<circle cx="251.7" cy="315.2" r="1" fill="#4a2e86"/>
<circle cx="254.9" cy="323.3" r="1" fill="#4a2e86"/>
<circle cx="258.1" cy="322.4" r="1" fill="#4a2e86"/>
<circle cx="261.3" cy="329.1" r="1" fill="#4a2e86"/>
<circle cx="264.5" cy="325.7" r="1" fill="#4a2e86"/>
<circle cx="267.7" cy="318.6" r="1" fill="#4a2e86"/>
<circle cx="274.1" cy="307.6" r="1" fill="#4a2e86"/>
<circle cx="293.3" cy="307.6" r="1" fill="#4a2e86"/>
<circle cx="306.1" cy="296.2" r="1" fill="#4a2e86"/>
<text x="312" y="299" font-size="8" text-anchor="middle" fill="#444">#</text>
<path d="M319.5 280.75H333.5" stroke="#3a55b0" stroke-width="1"/>
<circle cx="326.5" cy="280.75" r="1.2" fill="#3a55b0"/>
<text x="340.5" y="284.15" font-size="9.3" fill="#222">Water - CTRL</text>
<path d="M319.5 295.5H333.5" stroke="#2b3f9a" stroke-width="1.35" stroke-dasharray="4 2.2"/>
<circle cx="326.5" cy="295.5" r="1.2" fill="#2b3f9a"/>
<text x="340.5" y="298.9" font-size="9.3" fill="#222">Water - AOM/DSS</text>
<path d="M319.5 310.5H333.5" stroke="#e8702a" stroke-width="1"/>
<circle cx="326.5" cy="310.5" r="1.2" fill="#e8702a"/>
<text x="340.5" y="313.9" font-size="9.3" fill="#222">CMC - CTRL</text>
<path d="M319.5 323H333.5" stroke="#e8702a" stroke-width="1.35" stroke-dasharray="4 2.2"/>
<circle cx="326.5" cy="323" r="1.2" fill="#e8702a"/>
<text x="340.5" y="326.4" font-size="9.3" fill="#222">CMC - AOM/DSS</text>
<path d="M319.5 335.8H333.5" stroke="#6a3a9a" stroke-width="1"/>
<circle cx="326.5" cy="335.8" r="1.2" fill="#6a3a9a"/>
<text x="340.5" y="339.2" font-size="9.3" fill="#222">P80 - CTRL</text>
<path d="M319.5 348.3H333.5" stroke="#4a2e86" stroke-width="1.35" stroke-dasharray="4 2.2"/>
<circle cx="326.5" cy="348.3" r="1.2" fill="#4a2e86"/>
<text x="340.5" y="351.7" font-size="9.3" fill="#222">P80 - AOM/DSS</text>
<text x="8.4" y="410.7" font-size="13.2" font-weight="bold" fill="#111">F</text>
<text x="25.6" y="438.9" font-size="9.7" text-anchor="middle" fill="#222">Water</text>
<text x="25.6" y="480.7" font-size="9.7" text-anchor="middle" fill="#222">Water</text>
<text x="25.6" y="491.8" font-size="9.7" text-anchor="middle" fill="#222">AOM/DSS</text>
<text x="25.6" y="534.8" font-size="9.7" text-anchor="middle" fill="#222">CMC</text>
<text x="25.6" y="577.3" font-size="9.7" text-anchor="middle" fill="#222">CMC</text>
<text x="25.6" y="588.9" font-size="9.7" text-anchor="middle" fill="#222">AOM/DSS</text>
<text x="25.6" y="635.2" font-size="9.7" text-anchor="middle" fill="#222">P80</text>
<text x="25.6" y="675.7" font-size="9.7" text-anchor="middle" fill="#222">P80</text>
<text x="25.6" y="686.9" font-size="9.7" text-anchor="middle" fill="#222">AOM/DSS</text>
<defs>
<filter id="soft" x="-5%" y="-20%" width="110%" height="140%"><feGaussianBlur stdDeviation="0.7"/></filter>
<filter id="tissue" x="-5%" y="-25%" width="110%" height="150%"><feTurbulence type="fractalNoise" baseFrequency="0.11 0.16" numOctaves="3" seed="5" result="n"/><feDisplacementMap in="SourceGraphic" in2="n" scale="3" xChannelSelector="R" yChannelSelector="G" result="d"/><feGaussianBlur in="d" stdDeviation="0.65"/></filter>
<filter id="soft2" x="-10%" y="-30%" width="120%" height="160%"><feGaussianBlur stdDeviation="2.2"/></filter>
<filter id="spk" x="0" y="0" width="100%" height="100%"><feTurbulence type="fractalNoise" baseFrequency="0.7" numOctaves="2" seed="7"/><feColorMatrix type="matrix" values="0 0 0 0 1  0 0 0 0 1  0 0 0 0 1  5 0 0 0 -3.3"/></filter>
<filter id="dspk" x="0" y="0" width="100%" height="100%"><feTurbulence type="fractalNoise" baseFrequency="0.06 0.16" numOctaves="3" seed="11"/><feColorMatrix type="matrix" values="0 0 0 0 0  0 0 0 0 0  0 0 0 0 0  0 2.2 0 0 -0.85"/></filter>
<filter id="grain" x="0" y="0" width="100%" height="100%"><feTurbulence type="fractalNoise" baseFrequency="0.9" numOctaves="1" seed="3"/><feColorMatrix type="matrix" values="1.6 0 0 0 -0.3  1.6 0 0 0 -0.3  1.6 0 0 0 -0.3  0 0 0 0 1"/></filter>
</defs>
<clipPath id="cp1"><rect x="55.6" y="414.6" width="176.4" height="41.9"/></clipPath>
<linearGradient id="cg1" gradientUnits="userSpaceOnUse" x1="55.6" y1="0" x2="232.0" y2="0"><stop offset="0" stop-color="#78767c"/><stop offset="0.25" stop-color="#66646a"/><stop offset="0.45" stop-color="#685c64"/><stop offset="0.75" stop-color="#76666e"/><stop offset="0.9" stop-color="#9a7c84"/><stop offset="1" stop-color="#cca4ac"/></linearGradient>
<g clip-path="url(#cp1)">
<rect x="55.6" y="414.6" width="176.4" height="41.9" fill="#0b0b0b"/>
<path d="M50 430H236V460H50Z" fill="#262626" filter="url(#soft2)"/>
<path d="M50 436L120 440L120 460H50Z" fill="#343434" filter="url(#soft2)"/>
<path d="M50 412H96V420H50Z" fill="#555" filter="url(#soft2)"/>
<path d="M110 412H236V432H110Z" fill="#1f1f1f" filter="url(#soft2)"/>
<path d="M49.6 417.4C50.5 414.5 50.8 417.5 55.0 417.4C59.2 417.3 68.5 416.9 75.0 417.0C81.5 417.1 87.8 417.4 94.0 418.0C100.2 418.6 105.6 419.8 112.0 420.5C118.4 421.2 125.8 422.0 132.6 422.5C139.4 423.0 146.1 423.1 153.0 423.6C159.9 424.1 167.1 424.9 174.0 425.5C180.9 426.1 187.8 426.6 194.6 427.3C201.4 428.0 209.4 428.9 215.0 429.5C220.6 430.1 225.3 428.8 228.0 430.7C230.7 432.6 230.8 437.2 231.0 441.0C231.2 444.8 232.2 451.6 229.5 453.4C226.8 455.1 220.8 452.2 215.0 451.5C209.2 450.8 201.4 450.1 194.6 449.2C187.8 448.3 180.9 447.0 174.0 446.0C167.1 445.0 159.9 443.9 153.0 443.0C146.1 442.1 139.4 441.2 132.6 440.5C125.8 439.8 118.9 439.5 112.0 438.9C105.1 438.3 97.2 437.5 91.0 437.0C84.8 436.5 81.0 436.4 75.0 436.0C69.0 435.6 59.2 435.0 55.0 434.8C50.8 434.6 50.5 437.7 49.6 434.8C48.7 431.9 48.7 420.3 49.6 417.4Z" fill="url(#cg1)" filter="url(#tissue)"/>
<path d="M49.6 417.4C50.5 414.5 50.8 417.5 55.0 417.4C59.2 417.3 68.5 416.9 75.0 417.0C81.5 417.1 87.8 417.4 94.0 418.0C100.2 418.6 105.6 419.8 112.0 420.5C118.4 421.2 125.8 422.0 132.6 422.5C139.4 423.0 146.1 423.1 153.0 423.6C159.9 424.1 167.1 424.9 174.0 425.5C180.9 426.1 187.8 426.6 194.6 427.3C201.4 428.0 209.4 428.9 215.0 429.5C220.6 430.1 225.3 428.8 228.0 430.7C230.7 432.6 230.8 437.2 231.0 441.0C231.2 444.8 232.2 451.6 229.5 453.4C226.8 455.1 220.8 452.2 215.0 451.5C209.2 450.8 201.4 450.1 194.6 449.2C187.8 448.3 180.9 447.0 174.0 446.0C167.1 445.0 159.9 443.9 153.0 443.0C146.1 442.1 139.4 441.2 132.6 440.5C125.8 439.8 118.9 439.5 112.0 438.9C105.1 438.3 97.2 437.5 91.0 437.0C84.8 436.5 81.0 436.4 75.0 436.0C69.0 435.6 59.2 435.0 55.0 434.8C50.8 434.6 50.5 437.7 49.6 434.8C48.7 431.9 48.7 420.3 49.6 417.4Z" fill="none" stroke="#000" stroke-opacity="0.25" stroke-width="2.5" filter="url(#tissue)"/>
<ellipse cx="211" cy="416.8" rx="2.2" ry="1.8" fill="#c0a0a8" filter="url(#soft)"/><path d="M58 421L120 426L190 434" stroke="#a29ca4" stroke-opacity=".45" stroke-width="3" fill="none" filter="url(#soft2)"/><path d="M120 439.5L175 447L229 454" stroke="#d8b0b8" stroke-opacity=".55" stroke-width="1.2" fill="none" filter="url(#soft)"/>
<rect x="55.6" y="414.6" width="176.4" height="41.9" filter="url(#spk)" opacity="0.28"/>
<rect x="55.6" y="414.6" width="176.4" height="41.9" filter="url(#dspk)" opacity="0.35"/>
<rect x="55.6" y="414.6" width="176.4" height="41.9" filter="url(#grain)" opacity="0.12" style="mix-blend-mode:overlay"/>
</g>
<clipPath id="cp2"><rect x="55.6" y="462" width="176.4" height="47.8"/></clipPath>
<linearGradient id="cg2" gradientUnits="userSpaceOnUse" x1="55.6" y1="0" x2="232.0" y2="0"><stop offset="0" stop-color="#b09a9a"/><stop offset="0.25" stop-color="#a8989a"/><stop offset="0.55" stop-color="#c6a8a4"/><stop offset="0.8" stop-color="#c8acb0"/><stop offset="1" stop-color="#d4b4b8"/></linearGradient>
<g clip-path="url(#cp2)">
<rect x="55.6" y="462" width="176.4" height="47.8" fill="#0d0d0d"/>
<path d="M50 478H236V512H50Z" fill="#242727" filter="url(#soft2)"/>
<path d="M50 484H130V512H50Z" fill="#2c3232" filter="url(#soft2)"/>
<path d="M150 462H236V486H150Z" fill="#272929" filter="url(#soft2)"/>
<path d="M49.6 467.5C50.5 464.8 51.6 467.6 55.0 467.5C58.4 467.4 65.0 467.2 70.0 467.0C75.0 466.8 80.8 466.9 85.0 466.5C89.2 466.1 92.0 465.1 95.0 464.5C98.0 463.9 100.2 462.9 103.0 463.0C105.8 463.1 108.3 464.1 112.0 465.0C115.7 465.9 121.6 467.7 125.0 468.5C128.4 469.3 127.9 469.1 132.6 470.0C137.3 470.9 146.1 472.7 153.0 474.0C159.9 475.3 167.1 476.4 174.0 478.0C180.9 479.6 189.1 482.4 194.6 483.5C200.1 484.6 204.1 484.0 207.0 484.4C209.9 484.8 210.0 485.1 212.0 486.0C214.0 486.9 217.1 488.7 219.0 490.0C220.9 491.3 222.8 492.3 223.5 494.0C224.2 495.7 223.9 497.9 223.5 500.0C223.1 502.1 222.6 505.5 221.0 506.5C219.4 507.5 216.3 506.9 214.0 506.0C211.7 505.1 210.2 502.9 207.0 501.0C203.8 499.1 200.1 496.4 194.6 494.7C189.1 492.9 180.9 491.2 174.0 490.5C167.1 489.8 159.9 490.8 153.0 490.5C146.1 490.2 139.4 489.4 132.6 488.5C125.8 487.6 118.9 485.7 112.0 485.0C105.1 484.3 98.0 484.5 91.0 484.3C84.0 484.1 76.0 483.9 70.0 483.8C64.0 483.7 58.4 483.6 55.0 483.5C51.6 483.4 50.5 486.2 49.6 483.5C48.7 480.8 48.7 470.2 49.6 467.5Z" fill="url(#cg2)" filter="url(#tissue)"/>
<path d="M49.6 467.5C50.5 464.8 51.6 467.6 55.0 467.5C58.4 467.4 65.0 467.2 70.0 467.0C75.0 466.8 80.8 466.9 85.0 466.5C89.2 466.1 92.0 465.1 95.0 464.5C98.0 463.9 100.2 462.9 103.0 463.0C105.8 463.1 108.3 464.1 112.0 465.0C115.7 465.9 121.6 467.7 125.0 468.5C128.4 469.3 127.9 469.1 132.6 470.0C137.3 470.9 146.1 472.7 153.0 474.0C159.9 475.3 167.1 476.4 174.0 478.0C180.9 479.6 189.1 482.4 194.6 483.5C200.1 484.6 204.1 484.0 207.0 484.4C209.9 484.8 210.0 485.1 212.0 486.0C214.0 486.9 217.1 488.7 219.0 490.0C220.9 491.3 222.8 492.3 223.5 494.0C224.2 495.7 223.9 497.9 223.5 500.0C223.1 502.1 222.6 505.5 221.0 506.5C219.4 507.5 216.3 506.9 214.0 506.0C211.7 505.1 210.2 502.9 207.0 501.0C203.8 499.1 200.1 496.4 194.6 494.7C189.1 492.9 180.9 491.2 174.0 490.5C167.1 489.8 159.9 490.8 153.0 490.5C146.1 490.2 139.4 489.4 132.6 488.5C125.8 487.6 118.9 485.7 112.0 485.0C105.1 484.3 98.0 484.5 91.0 484.3C84.0 484.1 76.0 483.9 70.0 483.8C64.0 483.7 58.4 483.6 55.0 483.5C51.6 483.4 50.5 486.2 49.6 483.5C48.7 480.8 48.7 470.2 49.6 467.5Z" fill="none" stroke="#000" stroke-opacity="0.25" stroke-width="2.5" filter="url(#tissue)"/>
<ellipse cx="160" cy="482" rx="11" ry="4.5" fill="#dcb4a4" opacity=".6" filter="url(#soft2)"/><ellipse cx="209" cy="487.3" rx="3.6" ry="3.4" fill="#d8b8bc" opacity="0.9" filter="url(#soft)"/><ellipse cx="216" cy="495" rx="5.5" ry="5" fill="#d4b4b8" opacity="0.9" filter="url(#soft)"/><ellipse cx="219.5" cy="502" rx="3.8" ry="3.8" fill="#d0b0b6" opacity="0.9" filter="url(#soft)"/><ellipse cx="186" cy="486" rx="6" ry="4" fill="#ccb0b0" opacity="0.6" filter="url(#soft)"/>
<rect x="55.6" y="462" width="176.4" height="47.8" filter="url(#spk)" opacity="0.28"/>
<rect x="55.6" y="462" width="176.4" height="47.8" filter="url(#dspk)" opacity="0.35"/>
<rect x="55.6" y="462" width="176.4" height="47.8" filter="url(#grain)" opacity="0.12" style="mix-blend-mode:overlay"/>
</g>
<clipPath id="cp3"><rect x="55.6" y="514.6" width="176.4" height="37.1"/></clipPath>
<linearGradient id="cg3" gradientUnits="userSpaceOnUse" x1="55.6" y1="0" x2="232.0" y2="0"><stop offset="0" stop-color="#90848a"/><stop offset="0.15" stop-color="#707484"/><stop offset="0.45" stop-color="#6a7080"/><stop offset="0.7" stop-color="#8c8c9e"/><stop offset="0.9" stop-color="#b4b2c2"/><stop offset="1" stop-color="#d4d0da"/></linearGradient>
<g clip-path="url(#cp3)">
<rect x="55.6" y="514.6" width="176.4" height="37.1" fill="#0a0a0a"/>
<path d="M50 526H236V555H50Z" fill="#252824" filter="url(#soft2)"/>
<path d="M50 530H140V555H50Z" fill="#2c2f29" filter="url(#soft2)"/>
<path d="M222 516H236V552H222Z" fill="#262c3a" filter="url(#soft2)"/>
<path d="M49.6 516.6C50.5 514.4 50.8 516.5 55.0 516.6C59.2 516.7 69.0 516.7 75.0 517.0C81.0 517.3 84.8 517.8 91.0 518.2C97.2 518.6 105.1 519.1 112.0 519.5C118.9 519.9 125.4 520.3 132.6 520.7C139.8 521.1 149.4 521.7 155.0 522.0C160.6 522.3 163.5 522.5 166.0 522.3C168.5 522.0 168.7 520.3 170.0 520.5C171.3 520.7 169.9 522.6 174.0 523.6C178.1 524.6 187.8 525.5 194.6 526.5C201.4 527.5 209.8 529.3 215.0 529.8C220.2 530.3 223.8 528.3 226.0 529.5C228.2 530.7 227.8 534.0 228.0 537.0C228.2 540.0 228.0 545.8 227.0 547.5C226.0 549.2 224.0 547.6 222.0 547.3C220.0 547.0 219.6 546.4 215.0 545.5C210.4 544.6 201.4 543.1 194.6 542.2C187.8 541.3 180.6 540.7 174.0 540.1C167.4 539.5 161.9 539.0 155.0 538.5C148.1 538.0 139.8 537.7 132.6 537.2C125.4 536.7 118.9 536.0 112.0 535.5C105.1 535.0 97.2 534.5 91.0 533.9C84.8 533.3 81.0 532.7 75.0 532.0C69.0 531.3 59.2 530.2 55.0 529.8C50.8 529.4 50.5 532.0 49.6 529.8C48.7 527.6 48.7 518.8 49.6 516.6Z" fill="url(#cg3)" filter="url(#tissue)"/>
<path d="M49.6 516.6C50.5 514.4 50.8 516.5 55.0 516.6C59.2 516.7 69.0 516.7 75.0 517.0C81.0 517.3 84.8 517.8 91.0 518.2C97.2 518.6 105.1 519.1 112.0 519.5C118.9 519.9 125.4 520.3 132.6 520.7C139.8 521.1 149.4 521.7 155.0 522.0C160.6 522.3 163.5 522.5 166.0 522.3C168.5 522.0 168.7 520.3 170.0 520.5C171.3 520.7 169.9 522.6 174.0 523.6C178.1 524.6 187.8 525.5 194.6 526.5C201.4 527.5 209.8 529.3 215.0 529.8C220.2 530.3 223.8 528.3 226.0 529.5C228.2 530.7 227.8 534.0 228.0 537.0C228.2 540.0 228.0 545.8 227.0 547.5C226.0 549.2 224.0 547.6 222.0 547.3C220.0 547.0 219.6 546.4 215.0 545.5C210.4 544.6 201.4 543.1 194.6 542.2C187.8 541.3 180.6 540.7 174.0 540.1C167.4 539.5 161.9 539.0 155.0 538.5C148.1 538.0 139.8 537.7 132.6 537.2C125.4 536.7 118.9 536.0 112.0 535.5C105.1 535.0 97.2 534.5 91.0 533.9C84.8 533.3 81.0 532.7 75.0 532.0C69.0 531.3 59.2 530.2 55.0 529.8C50.8 529.4 50.5 532.0 49.6 529.8C48.7 527.6 48.7 518.8 49.6 516.6Z" fill="none" stroke="#000" stroke-opacity="0.25" stroke-width="2.5" filter="url(#tissue)"/>

<rect x="55.6" y="514.6" width="176.4" height="37.1" filter="url(#spk)" opacity="0.28"/>
<rect x="55.6" y="514.6" width="176.4" height="37.1" filter="url(#dspk)" opacity="0.35"/>
<rect x="55.6" y="514.6" width="176.4" height="37.1" filter="url(#grain)" opacity="0.12" style="mix-blend-mode:overlay"/>
</g>
<clipPath id="cp4"><rect x="55.6" y="556.6" width="176.4" height="50.6"/></clipPath>
<linearGradient id="cg4" gradientUnits="userSpaceOnUse" x1="55.6" y1="0" x2="232.0" y2="0"><stop offset="0" stop-color="#a88c8c"/><stop offset="0.3" stop-color="#98868a"/><stop offset="0.6" stop-color="#b09696"/><stop offset="0.8" stop-color="#c8a2a2"/><stop offset="1" stop-color="#d8b0b0"/></linearGradient>
<g clip-path="url(#cp4)">
<rect x="55.6" y="556.6" width="176.4" height="50.6" fill="#0c0e0e"/>
<path d="M50 580H140V610H50Z" fill="#1b2222" filter="url(#soft2)"/>
<path d="M49.6 556.0C50.5 553.1 52.9 555.6 55.0 556.0C57.1 556.4 58.7 557.5 62.0 558.5C65.3 559.5 70.2 560.9 75.0 562.0C79.8 563.1 84.8 564.1 91.0 564.9C97.2 565.7 105.1 566.3 112.0 567.0C118.9 567.7 125.8 568.2 132.6 569.0C139.4 569.8 146.1 570.9 153.0 571.9C159.9 572.9 167.1 574.1 174.0 575.2C180.9 576.3 190.3 578.1 194.6 578.5C198.9 578.9 196.6 577.5 200.0 577.3C203.4 577.1 210.3 576.7 215.0 577.5C219.7 578.3 225.0 580.6 228.0 582.0C231.0 583.4 232.2 583.3 233.0 586.0C233.8 588.7 234.2 595.0 233.0 598.0C231.8 601.0 229.5 603.3 226.0 604.2C222.5 605.1 215.8 604.4 212.0 603.5C208.2 602.6 205.5 600.8 203.0 599.0C200.5 597.2 198.4 594.2 197.0 593.0C195.6 591.8 198.4 592.5 194.6 591.7C190.8 590.9 180.9 589.4 174.0 588.4C167.1 587.4 159.9 586.5 153.0 585.6C146.1 584.7 139.4 583.6 132.6 582.7C125.8 581.8 118.9 580.8 112.0 580.2C105.1 579.7 96.3 579.8 91.0 579.4C85.7 579.0 84.8 578.8 80.0 578.0C75.2 577.2 66.2 575.3 62.0 574.5C57.8 573.7 57.1 573.4 55.0 573.2C52.9 573.0 50.5 576.1 49.6 573.2C48.7 570.3 48.7 558.9 49.6 556.0Z" fill="url(#cg4)" filter="url(#tissue)"/>
<path d="M49.6 556.0C50.5 553.1 52.9 555.6 55.0 556.0C57.1 556.4 58.7 557.5 62.0 558.5C65.3 559.5 70.2 560.9 75.0 562.0C79.8 563.1 84.8 564.1 91.0 564.9C97.2 565.7 105.1 566.3 112.0 567.0C118.9 567.7 125.8 568.2 132.6 569.0C139.4 569.8 146.1 570.9 153.0 571.9C159.9 572.9 167.1 574.1 174.0 575.2C180.9 576.3 190.3 578.1 194.6 578.5C198.9 578.9 196.6 577.5 200.0 577.3C203.4 577.1 210.3 576.7 215.0 577.5C219.7 578.3 225.0 580.6 228.0 582.0C231.0 583.4 232.2 583.3 233.0 586.0C233.8 588.7 234.2 595.0 233.0 598.0C231.8 601.0 229.5 603.3 226.0 604.2C222.5 605.1 215.8 604.4 212.0 603.5C208.2 602.6 205.5 600.8 203.0 599.0C200.5 597.2 198.4 594.2 197.0 593.0C195.6 591.8 198.4 592.5 194.6 591.7C190.8 590.9 180.9 589.4 174.0 588.4C167.1 587.4 159.9 586.5 153.0 585.6C146.1 584.7 139.4 583.6 132.6 582.7C125.8 581.8 118.9 580.8 112.0 580.2C105.1 579.7 96.3 579.8 91.0 579.4C85.7 579.0 84.8 578.8 80.0 578.0C75.2 577.2 66.2 575.3 62.0 574.5C57.8 573.7 57.1 573.4 55.0 573.2C52.9 573.0 50.5 576.1 49.6 573.2C48.7 570.3 48.7 558.9 49.6 556.0Z" fill="none" stroke="#000" stroke-opacity="0.25" stroke-width="2.5" filter="url(#tissue)"/>
<radialGradient id="rg4" cx=".4" cy=".4" r=".7"><stop offset="0" stop-color="#e8bab2"/><stop offset="1" stop-color="#b88480"/></radialGradient><ellipse cx="72.1" cy="580" rx="8.7" ry="9.5" fill="url(#rg4)" filter="url(#soft)"/><ellipse cx="116.7" cy="562" rx="5.4" ry="4.9" fill="#aa9a9a" filter="url(#soft)"/><path d="M95 571L150 578L195 585" stroke="#d8a8a8" stroke-opacity=".6" stroke-width="3" fill="none" filter="url(#soft2)"/><ellipse cx="214" cy="592" rx="12" ry="8" fill="#e0b4b4" opacity=".7" filter="url(#soft2)"/><ellipse cx="205" cy="596.5" rx="4.5" ry="5.5" fill="#f0aca4" opacity="0.9" filter="url(#soft)"/><ellipse cx="218" cy="587" rx="8" ry="5.5" fill="#e4bcbc" opacity="0.8" filter="url(#soft)"/><ellipse cx="226.5" cy="596" rx="5.5" ry="6" fill="#dcb4b4" opacity="0.8" filter="url(#soft)"/><ellipse cx="213" cy="600" rx="5" ry="3.5" fill="#e0b8b4" opacity="0.7" filter="url(#soft)"/>
<rect x="55.6" y="556.6" width="176.4" height="50.6" filter="url(#spk)" opacity="0.28"/>
<rect x="55.6" y="556.6" width="176.4" height="50.6" filter="url(#dspk)" opacity="0.35"/>
<rect x="55.6" y="556.6" width="176.4" height="50.6" filter="url(#grain)" opacity="0.12" style="mix-blend-mode:overlay"/>
</g>
<clipPath id="cp5"><rect x="55.6" y="612" width="176.4" height="47.8"/></clipPath>
<linearGradient id="cg5" gradientUnits="userSpaceOnUse" x1="55.6" y1="0" x2="232.0" y2="0"><stop offset="0" stop-color="#767078"/><stop offset="0.3" stop-color="#7a747c"/><stop offset="0.55" stop-color="#90848a"/><stop offset="0.8" stop-color="#b89c9c"/><stop offset="1" stop-color="#ccacac"/></linearGradient>
<g clip-path="url(#cp5)">
<rect x="55.6" y="612" width="176.4" height="47.8" fill="#0c0c0c"/>
<path d="M150 612H236V634H150Z" fill="#1a1e1a" filter="url(#soft2)"/>
<path d="M50 640H236V662H50Z" fill="#1b1b18" filter="url(#soft2)"/>
<path d="M49.6 616.5C50.5 613.4 50.8 616.5 55.0 616.5C59.2 616.5 69.0 616.3 75.0 616.3C81.0 616.3 84.8 616.1 91.0 616.5C97.2 616.9 105.1 617.7 112.0 618.5C118.9 619.3 125.8 620.5 132.6 621.5C139.4 622.5 146.1 623.7 153.0 624.8C159.9 625.9 167.1 627.1 174.0 628.1C180.9 629.1 187.8 629.7 194.6 630.5C201.4 631.3 210.6 632.5 215.0 633.0C219.4 633.5 219.8 631.7 221.0 633.5C222.2 635.3 222.0 640.2 222.0 644.0C222.0 647.8 222.2 654.0 221.0 656.0C219.8 658.0 219.4 656.5 215.0 655.8C210.6 655.0 201.4 652.9 194.6 651.5C187.8 650.1 180.9 648.7 174.0 647.5C167.1 646.3 159.9 645.4 153.0 644.5C146.1 643.6 139.4 642.8 132.6 642.1C125.8 641.4 118.9 641.0 112.0 640.5C105.1 640.0 97.2 639.8 91.0 639.2C84.8 638.6 81.0 637.7 75.0 637.0C69.0 636.3 59.2 635.4 55.0 635.1C50.8 634.8 50.5 638.2 49.6 635.1C48.7 632.0 48.7 619.6 49.6 616.5Z" fill="url(#cg5)" filter="url(#tissue)"/>
<path d="M49.6 616.5C50.5 613.4 50.8 616.5 55.0 616.5C59.2 616.5 69.0 616.3 75.0 616.3C81.0 616.3 84.8 616.1 91.0 616.5C97.2 616.9 105.1 617.7 112.0 618.5C118.9 619.3 125.8 620.5 132.6 621.5C139.4 622.5 146.1 623.7 153.0 624.8C159.9 625.9 167.1 627.1 174.0 628.1C180.9 629.1 187.8 629.7 194.6 630.5C201.4 631.3 210.6 632.5 215.0 633.0C219.4 633.5 219.8 631.7 221.0 633.5C222.2 635.3 222.0 640.2 222.0 644.0C222.0 647.8 222.2 654.0 221.0 656.0C219.8 658.0 219.4 656.5 215.0 655.8C210.6 655.0 201.4 652.9 194.6 651.5C187.8 650.1 180.9 648.7 174.0 647.5C167.1 646.3 159.9 645.4 153.0 644.5C146.1 643.6 139.4 642.8 132.6 642.1C125.8 641.4 118.9 641.0 112.0 640.5C105.1 640.0 97.2 639.8 91.0 639.2C84.8 638.6 81.0 637.7 75.0 637.0C69.0 636.3 59.2 635.4 55.0 635.1C50.8 634.8 50.5 638.2 49.6 635.1C48.7 632.0 48.7 619.6 49.6 616.5Z" fill="none" stroke="#000" stroke-opacity="0.25" stroke-width="2.5" filter="url(#tissue)"/>

<rect x="55.6" y="612" width="176.4" height="47.8" filter="url(#spk)" opacity="0.3"/>
<rect x="55.6" y="612" width="176.4" height="47.8" filter="url(#dspk)" opacity="0.35"/>
<rect x="55.6" y="612" width="176.4" height="47.8" filter="url(#grain)" opacity="0.12" style="mix-blend-mode:overlay"/>
</g>
<clipPath id="cp6"><rect x="55.6" y="665" width="176.4" height="33.0"/></clipPath>
<linearGradient id="cg6" gradientUnits="userSpaceOnUse" x1="55.6" y1="0" x2="232.0" y2="0"><stop offset="0" stop-color="#b89a9a"/><stop offset="0.4" stop-color="#c0a2a2"/><stop offset="0.7" stop-color="#dab6b6"/><stop offset="1" stop-color="#ecc8c8"/></linearGradient>
<g clip-path="url(#cp6)">
<rect x="55.6" y="665" width="176.4" height="33.0" fill="#0c0c0c"/>
<path d="M50 660H170V702H50Z" fill="#2e332e" filter="url(#soft2)"/>
<path d="M49.6 668.2C50.5 665.5 50.8 668.2 55.0 668.2C59.2 668.2 69.0 668.0 75.0 668.0C81.0 668.0 84.8 668.0 91.0 668.2C97.2 668.4 105.1 668.9 112.0 669.2C118.9 669.5 125.8 669.9 132.6 670.2C139.4 670.5 146.1 670.6 153.0 671.0C159.9 671.4 168.7 672.2 174.0 672.3C179.3 672.4 181.6 671.7 185.0 671.5C188.4 671.3 191.3 670.9 194.6 671.0C197.9 671.1 201.6 671.6 205.0 672.0C208.4 672.4 211.8 672.7 215.0 673.5C218.2 674.3 221.6 675.6 224.0 677.0C226.4 678.4 228.6 680.0 229.5 682.0C230.4 684.0 230.4 687.2 229.5 689.0C228.6 690.8 226.4 691.8 224.0 692.5C221.6 693.2 219.9 693.2 215.0 693.3C210.1 693.4 199.8 693.4 194.6 693.0C189.4 692.6 187.4 691.5 184.0 691.0C180.6 690.5 177.5 690.0 174.0 690.0C170.5 690.0 166.5 691.1 163.0 691.2C159.5 691.4 158.1 691.5 153.0 690.9C147.9 690.3 139.4 688.3 132.6 687.6C125.8 686.9 118.9 686.8 112.0 686.5C105.1 686.2 97.2 686.2 91.0 686.0C84.8 685.8 81.0 685.5 75.0 685.3C69.0 685.1 59.2 684.8 55.0 684.7C50.8 684.6 50.5 687.5 49.6 684.7C48.7 682.0 48.7 671.0 49.6 668.2Z" fill="url(#cg6)" filter="url(#tissue)"/>
<path d="M49.6 668.2C50.5 665.5 50.8 668.2 55.0 668.2C59.2 668.2 69.0 668.0 75.0 668.0C81.0 668.0 84.8 668.0 91.0 668.2C97.2 668.4 105.1 668.9 112.0 669.2C118.9 669.5 125.8 669.9 132.6 670.2C139.4 670.5 146.1 670.6 153.0 671.0C159.9 671.4 168.7 672.2 174.0 672.3C179.3 672.4 181.6 671.7 185.0 671.5C188.4 671.3 191.3 670.9 194.6 671.0C197.9 671.1 201.6 671.6 205.0 672.0C208.4 672.4 211.8 672.7 215.0 673.5C218.2 674.3 221.6 675.6 224.0 677.0C226.4 678.4 228.6 680.0 229.5 682.0C230.4 684.0 230.4 687.2 229.5 689.0C228.6 690.8 226.4 691.8 224.0 692.5C221.6 693.2 219.9 693.2 215.0 693.3C210.1 693.4 199.8 693.4 194.6 693.0C189.4 692.6 187.4 691.5 184.0 691.0C180.6 690.5 177.5 690.0 174.0 690.0C170.5 690.0 166.5 691.1 163.0 691.2C159.5 691.4 158.1 691.5 153.0 690.9C147.9 690.3 139.4 688.3 132.6 687.6C125.8 686.9 118.9 686.8 112.0 686.5C105.1 686.2 97.2 686.2 91.0 686.0C84.8 685.8 81.0 685.5 75.0 685.3C69.0 685.1 59.2 684.8 55.0 684.7C50.8 684.6 50.5 687.5 49.6 684.7C48.7 682.0 48.7 671.0 49.6 668.2Z" fill="none" stroke="#000" stroke-opacity="0.25" stroke-width="2.5" filter="url(#tissue)"/>
<ellipse cx="160" cy="681" rx="7" ry="4.5" fill="#d8b4b0" opacity="0.6" filter="url(#soft)"/><ellipse cx="176" cy="684" rx="6" ry="4.5" fill="#dcb8b4" opacity="0.6" filter="url(#soft)"/><ellipse cx="190" cy="680" rx="5" ry="4.5" fill="#e4bcb8" opacity="0.7" filter="url(#soft)"/><ellipse cx="177" cy="678.5" rx="2" ry="1.2" fill="#c47868" opacity="0.7" filter="url(#soft)"/><ellipse cx="197" cy="677" rx="1.8" ry="1.2" fill="#c88070" opacity="0.6" filter="url(#soft)"/><ellipse cx="205" cy="678.5" rx="7" ry="5.5" fill="#ecc8c4" opacity="0.8" filter="url(#soft)"/><ellipse cx="216" cy="683" rx="7" ry="6" fill="#f0d0cc" opacity="0.8" filter="url(#soft)"/><ellipse cx="223" cy="687.5" rx="4.5" ry="3.5" fill="#e8c8c8" opacity="0.8" filter="url(#soft)"/><ellipse cx="208" cy="689" rx="6" ry="3.5" fill="#e0bcbc" opacity="0.7" filter="url(#soft)"/>
<rect x="55.6" y="665" width="176.4" height="33.0" filter="url(#spk)" opacity="0.28"/>
<rect x="55.6" y="665" width="176.4" height="33.0" filter="url(#dspk)" opacity="0.35"/>
<rect x="55.6" y="665" width="176.4" height="33.0" filter="url(#grain)" opacity="0.12" style="mix-blend-mode:overlay"/>
</g>
</svg>
</body></html>
